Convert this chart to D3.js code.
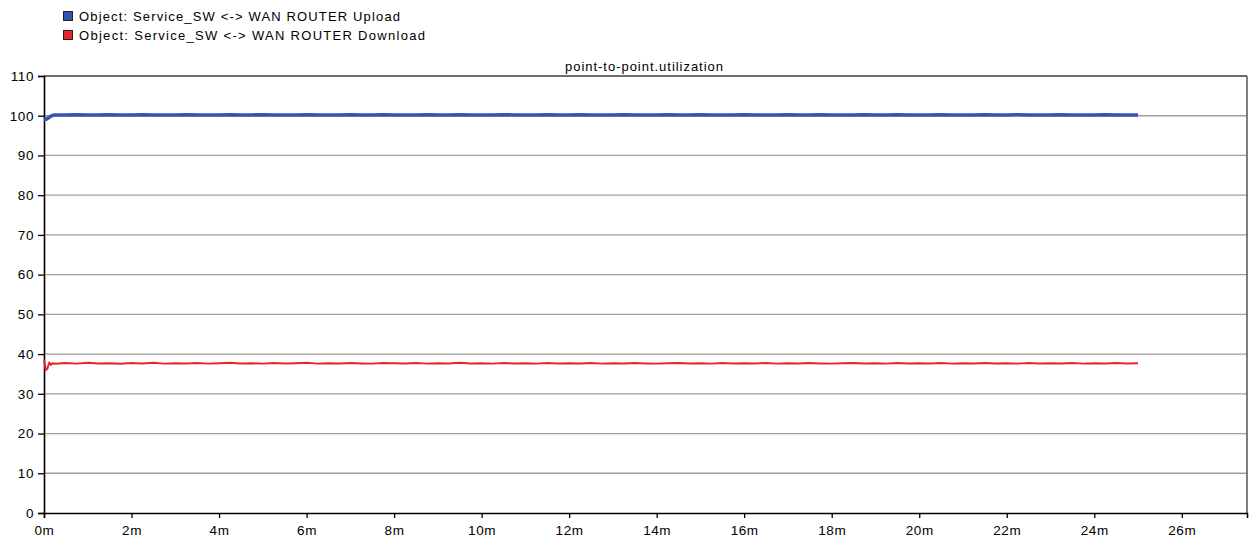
<!DOCTYPE html>
<html><head><meta charset="utf-8">
<script src="https://cdn.jsdelivr.net/npm/d3@7"></script>
<style>
body{margin:0;background:#fff;}
svg{display:block;font-family:Arial,"Liberation Sans",sans-serif;}
</style></head><body>
<svg id="c" width="1250" height="542"></svg>
<script>
const chartTitle = "point-to-point.utilization";
const seriesNames = ["Object: Service_SW <-> WAN ROUTER Upload", "Object: Service_SW <-> WAN ROUTER Download"];
const seriesColors = ["#3454b4", "#e8242c"];
const yTicks = [0,10,20,30,40,50,60,70,80,90,100,110];
const xTicks = [0,2,4,6,8,10,12,14,16,18,20,22,24,26];
const xTickLabels = ["0m","2m","4m","6m","8m","10m","12m","14m","16m","18m","20m","22m","24m","26m"];
// time (minutes) of start-up samples
const startTimes = [0, 0.04, 0.08, 0.12, 0.16, 0.2, 0.25];
const uploadStart = [99.0, 99.1, 99.3, 99.6, 99.9, 100.1, 100.2];
const downloadStart = [38.6, 36.0, 36.4, 37.9, 37.3, 37.7, 37.55];
// steady-state samples, every 0.25 min from 0.5 to 25 min
const sampleStep = 0.25;
const uploadSteady = [100.2,100.25,100.2,100.2,100.25,100.2,100.2,100.25,100.2,100.2,
100.2,100.25,100.2,100.2,100.2,100.25,100.2,100.2,100.25,100.2,
100.2,100.2,100.25,100.2,100.2,100.2,100.25,100.2,100.2,100.25,
100.2,100.2,100.2,100.25,100.2,100.2,100.25,100.2,100.2,100.2,
100.25,100.2,100.2,100.2,100.25,100.2,100.2,100.25,100.2,100.2,
100.2,100.25,100.2,100.2,100.2,100.25,100.2,100.2,100.25,100.2,
100.2,100.2,100.25,100.2,100.2,100.2,100.25,100.2,100.2,100.25,
100.2,100.2,100.2,100.25,100.2,100.2,100.25,100.2,100.2,100.2,
100.25,100.2,100.2,100.2,100.25,100.2,100.2,100.25,100.2,100.2,
100.2,100.25,100.2,100.2,100.2,100.25,100.2,100.2,100.2];
const downloadSteady = [37.75,37.6,37.8,37.65,37.7,37.55,37.75,37.65,37.8,37.6,
37.7,37.65,37.75,37.6,37.7,37.8,37.65,37.7,37.6,37.75,
37.65,37.7,37.8,37.6,37.7,37.65,37.75,37.65,37.6,37.75,
37.7,37.65,37.75,37.6,37.7,37.65,37.8,37.65,37.7,37.6,
37.75,37.65,37.7,37.6,37.75,37.65,37.7,37.65,37.75,37.6,
37.7,37.65,37.75,37.65,37.6,37.7,37.75,37.65,37.7,37.6,
37.75,37.65,37.7,37.65,37.75,37.6,37.7,37.65,37.75,37.65,
37.6,37.7,37.75,37.65,37.7,37.6,37.75,37.65,37.7,37.65,
37.75,37.6,37.7,37.65,37.75,37.65,37.7,37.6,37.75,37.65,
37.7,37.65,37.75,37.6,37.7,37.65,37.75,37.65,37.7];

function build(startVals, steadyVals){
  const pts = startTimes.map((t,i)=>[t,startVals[i]]);
  steadyVals.forEach((v,i)=>pts.push([0.5 + i*sampleStep, v]));
  return pts;
}
const series = [build(uploadStart, uploadSteady), build(downloadStart, downloadSteady)];

const svg = d3.select("#c");
const L = 44, R = 1247, T = 76, B = 513;
const x = d3.scaleLinear().domain([0, 27.49]).range([L, R]);
const y = d3.scaleLinear().domain([0, 110]).range([B, T]);
const legendWidths = [321, 346];

// legend
seriesNames.forEach((n,i)=>{
  svg.append("rect").attr("x",63.5).attr("y",11.5+i*19).attr("width",9).attr("height",9)
    .attr("fill",seriesColors[i]).attr("stroke","#222").attr("stroke-width",1);
  svg.append("text").attr("x",79).attr("y",21+i*19).attr("font-size",13).attr("fill","#000")
    .attr("textLength",legendWidths[i]).attr("lengthAdjust","spacing").text(n);
});

// title
svg.append("text").attr("x",565).attr("y",70.5).attr("font-size",13)
  .attr("textLength",158).attr("lengthAdjust","spacing").text(chartTitle);

// gridlines
svg.append("g").selectAll("line").data(yTicks.filter(d=>d>0)).join("line")
  .attr("x1",L).attr("x2",R).attr("y1",d=>y(d)).attr("y2",d=>y(d))
  .attr("stroke","#a0a0a0").attr("stroke-width",1.3);

// frame top/right
svg.append("line").attr("x1",L).attr("x2",R).attr("y1",T).attr("y2",T).attr("stroke","#555").attr("stroke-width",1.5);
svg.append("line").attr("x1",R).attr("x2",R).attr("y1",T).attr("y2",B).attr("stroke","#555").attr("stroke-width",1.5);

// axes
const yAxis = d3.axisLeft(y).tickValues(yTicks).tickSize(6).tickPadding(4);
const gy = svg.append("g").attr("transform",`translate(${L},0)`).call(yAxis);
const xAxis = d3.axisBottom(x).tickValues(xTicks).tickFormat((d,i)=>xTickLabels[i]).tickSize(5).tickPadding(7);
const gx = svg.append("g").attr("transform",`translate(0,${B})`).call(xAxis);
[gy,gx].forEach(g=>{
  g.select(".domain").attr("stroke","#000").attr("stroke-width",1.6);
  g.selectAll(".tick line").attr("stroke","#000").attr("stroke-width",1.3);
  g.selectAll(".tick text").attr("font-size",13.5).attr("fill","#000")
    .attr("letter-spacing","0.6px").attr("font-family","Arial, 'Liberation Sans', sans-serif");
});

// lines
const line = d3.line().x(d=>x(d[0])).y(d=>y(d[1]));
series.forEach((s,i)=>{
  svg.append("path").datum(s).attr("d",line).attr("fill","none")
    .attr("stroke",seriesColors[i]).attr("stroke-width",i===0?3.6:2).attr("stroke-linejoin","round");
});
</script></body></html>
